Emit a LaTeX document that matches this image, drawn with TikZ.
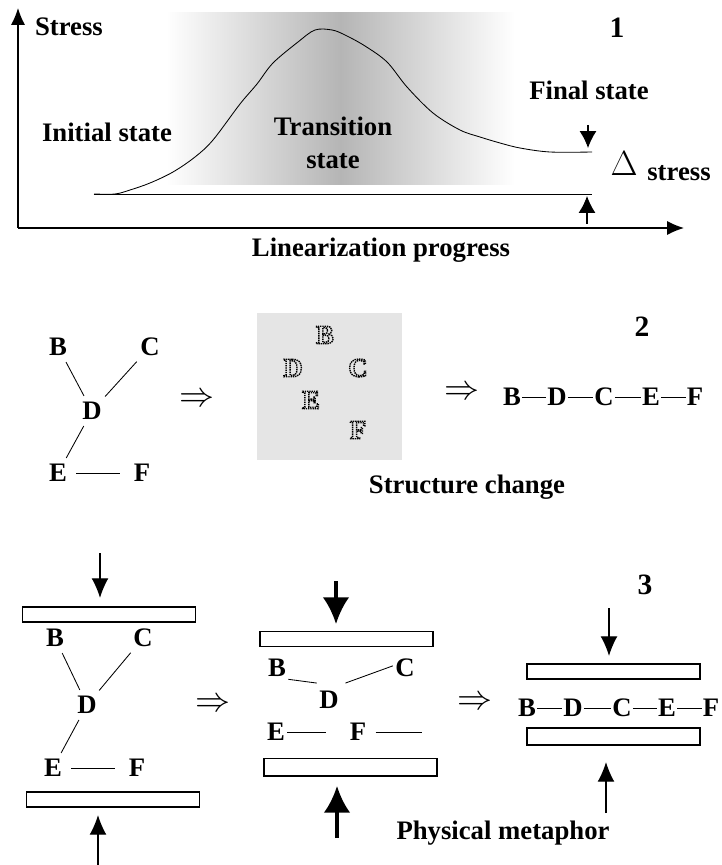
\documentclass[tikz,border=0pt]{standalone}
\usepackage{fontspec}
\setmainfont{Liberation Serif}
\usetikzlibrary{positioning,arrows.meta}
% letters drawn as a dotted outline
\newcommand{\dotted}[1]{\special{pdf:literal direct 1 Tr [1 0.6] 0 d}#1\special{pdf:literal direct 0 Tr [] 0 d}}

\begin{document}
\begin{tikzpicture}[x=0.025cm, y=-0.025cm, line width=0.6pt,
	lbl/.style ={font=\fontsize{19}{23.4}\selectfont\bfseries, inner sep=1pt},
	atom/.style ={font=\fontsize{19}{22}\selectfont\bfseries, inner sep=1.5pt},
	ghost/.style ={font=\fontsize{19}{22}\selectfont\bfseries, text=black, line width=1pt, inner sep=1pt},
	num/.style ={font=\fontsize{21}{24}\selectfont\bfseries},
	imply/.style ={font=\fontsize{25}{28}\selectfont, inner sep=0pt},
	bond/.style ={shorten <=3pt, shorten >=3pt},
	plate/.style ={draw, line width=1pt, minimum width=4.33cm, minimum height=0.37cm, inner sep=0pt},
	axis/.style ={-{Latex[length=12pt,width=10pt]}, line width=0.9pt},
	levelmark/.style ={-{Latex[length=12pt,width=12pt]}, line width=0.8pt},
	push/.style ={-{Latex[length=14pt,width=12pt]}, line width=0.9pt},
	bigpush/.style ={-{Latex[length=19pt,width=19pt]}, line width=2.6pt}]
	\useasboundingbox (0,0) rectangle (721,865);

	% panel 1
	\shade[left color=white, right color=white, middle color=black!29] (166,13) rectangle (515,185);
	\coordinate (O) at (18,228);
	\coordinate (ytop) at (18,8);
	\coordinate (xend) at (684,228);
	\draw[axis] (O) -- (ytop);
	\draw[axis] (O) -- (xend);
	\draw (94,194) -- (592,194);
	\draw plot[smooth, tension=0.55] coordinates {(94,194) (115,194) (130,190) (150,183) (173,172)
		(195,157) (213,140) (240,104) (257,84) (273,63) (298,42) (315,30) (332,30) (345,35)
		(365,46) (387,62) (407,87) (433,113) (460,130) (480,137) (500,143) (520,148) (550,152) (592,152)};
	\node[lbl] (stress) at (69,27) {Stress};
	\node[num] (n1) at (617,28) {1};
	\node[lbl] (init) at (107,132) {Initial state};
	\node[lbl, align=center] (trans) at (333,143) {Transition\\state};
	\node[lbl] (final) at (589,90) {Final state};
	\node[font=\fontsize{27}{30}\selectfont, inner sep=0pt] (delta) at (624,164) {$\Delta$};
	\node[lbl] (dstress) at (679,173) {stress};
	\node[lbl] (prog) at (381,250) {Linearization progress};
	\coordinate (f1) at (588,125);
	\coordinate (f2) at (588,148);
	\coordinate (i1) at (587,224);
	\coordinate (i2) at (587,196);
	\draw[levelmark] (f1) -- (f2);
	\draw[levelmark] (i1) -- (i2);

	% panel 2
	\node[atom] (B1) at (58,347) {B};
	\node[atom] (C1) at (150,347) {C};
	\node[atom] (D1) at (92,411) {D};
	\node[atom] (E1) at (58,473) {E};
	\node[atom] (F1) at (142,473) {F};
	\draw[bond] (B1) -- (D1);
	\draw[bond] (C1) -- (D1);
	\draw[bond] (D1) -- (E1);
	\draw[bond, shorten <=5pt, shorten >=8pt] (E1) -- (F1);
	\node[imply] (imp1) at (197,400) {$\Rightarrow$};
	\fill[black!10] (257,313) rectangle (402,460);
	\node[ghost] (gB) at (325,335) {\dotted{B}};
	\node[ghost] (gD) at (293,368) {\dotted{D}};
	\node[ghost] (gC) at (358,368) {\dotted{C}};
	\node[ghost] (gE) at (311,400) {\dotted{E}};
	\node[ghost] (gF) at (358,430) {\dotted{F}};
	\node[num] (n2) at (642,327) {2};
	\node[imply] (imp2) at (462,393) {$\Rightarrow$};
	\node[atom, inner sep=0.5pt] (cB) at (512,397) {B};
	\node[atom, inner sep=0.5pt] (cD) at (557,397) {D};
	\node[atom, inner sep=0.5pt] (cC) at (604,397) {C};
	\node[atom, inner sep=0.5pt] (cE) at (651,397) {E};
	\node[atom, inner sep=0.5pt] (cF) at (695,397) {F};
	\draw (cB) -- (cD) (cD) -- (cC) (cC) -- (cE) (cE) -- (cF);
	\node[lbl] (change) at (467,487) {Structure change};

	% panel 3, left
	\coordinate (a1) at (100,553);
	\coordinate (a2) at (100,598);
	\draw[push] (a1) -- (a2);
	\node[plate] (pt1) at (109,614.5) {};
	\node[atom] (B2) at (55,638) {B};
	\node[atom] (C2) at (143,638) {C};
	\node[atom] (D2) at (87,705) {D};
	\node[atom] (E2) at (53,768) {E};
	\node[atom] (F2) at (137,768) {F};
	\draw[bond] (B2) -- (D2);
	\draw[bond] (C2) -- (D2);
	\draw[bond] (D2) -- (E2);
	\draw[bond, shorten <=5pt, shorten >=8pt] (E2) -- (F2);
	\node[plate] (pb1) at (113,799.5) {};
	\coordinate (b1) at (98,866);
	\coordinate (b2) at (98,815);
	\draw[push] (b1) -- (b2);
	\node[imply] (imp3) at (213,705) {$\Rightarrow$};

	% panel 3, middle
	\coordinate (a3) at (336,581);
	\coordinate (a4) at (336,624);
	\draw[bigpush] (a3) -- (a4);
	\node[plate] (pt2) at (346.5,639) {};
	\node[atom] (B3) at (277,668) {B};
	\node[atom] (C3) at (405,668) {C};
	\node[atom] (D3) at (329,700) {D};
	\node[atom] (E3) at (276,732) {E};
	\node[atom] (F3) at (358,732) {F};
	\coordinate (Fend) at (422,732);
	\draw (B3.south east) -- ([yshift=4pt]D3.north west);
	\draw (C3.170) -- ([shift={(3pt,4pt)}]D3.north east);
	\draw[shorten >=15pt] (E3) -- (F3);
	\draw[shorten <=5pt] (F3) -- (Fend);
	\node[plate, minimum height=0.44cm] (pb2) at (350.5,767) {};
	\coordinate (b3) at (337,838);
	\coordinate (b4) at (337,786);
	\draw[bigpush] (b3) -- (b4);
	\node[imply] (imp4) at (475,703) {$\Rightarrow$};

	% panel 3, right
	\node[num] (n3) at (645,585) {3};
	\coordinate (a5) at (609,608);
	\coordinate (a6) at (609,656);
	\draw[push] (a5) -- (a6);
	\node[plate] (pt3) at (613.5,671.5) {};
	\node[atom, inner sep=0.5pt] (dB) at (527,708) {B};
	\node[atom, inner sep=0.5pt] (dD) at (573,708) {D};
	\node[atom, inner sep=0.5pt] (dC) at (622,708) {C};
	\node[atom, inner sep=0.5pt] (dE) at (667,708) {E};
	\node[atom, inner sep=0.5pt] (dF) at (711,708) {F};
	\draw (dB) -- (dD) (dD) -- (dC) (dC) -- (dE) (dE) -- (dF);
	\node[plate, minimum height=0.42cm] (pb3) at (613.5,736.5) {};
	\coordinate (b5) at (606,813);
	\coordinate (b6) at (606,762);
	\draw[push] (b5) -- (b6);
	\node[lbl] (meta) at (503,833) {Physical metaphor};
\end{tikzpicture}
\end{document}
